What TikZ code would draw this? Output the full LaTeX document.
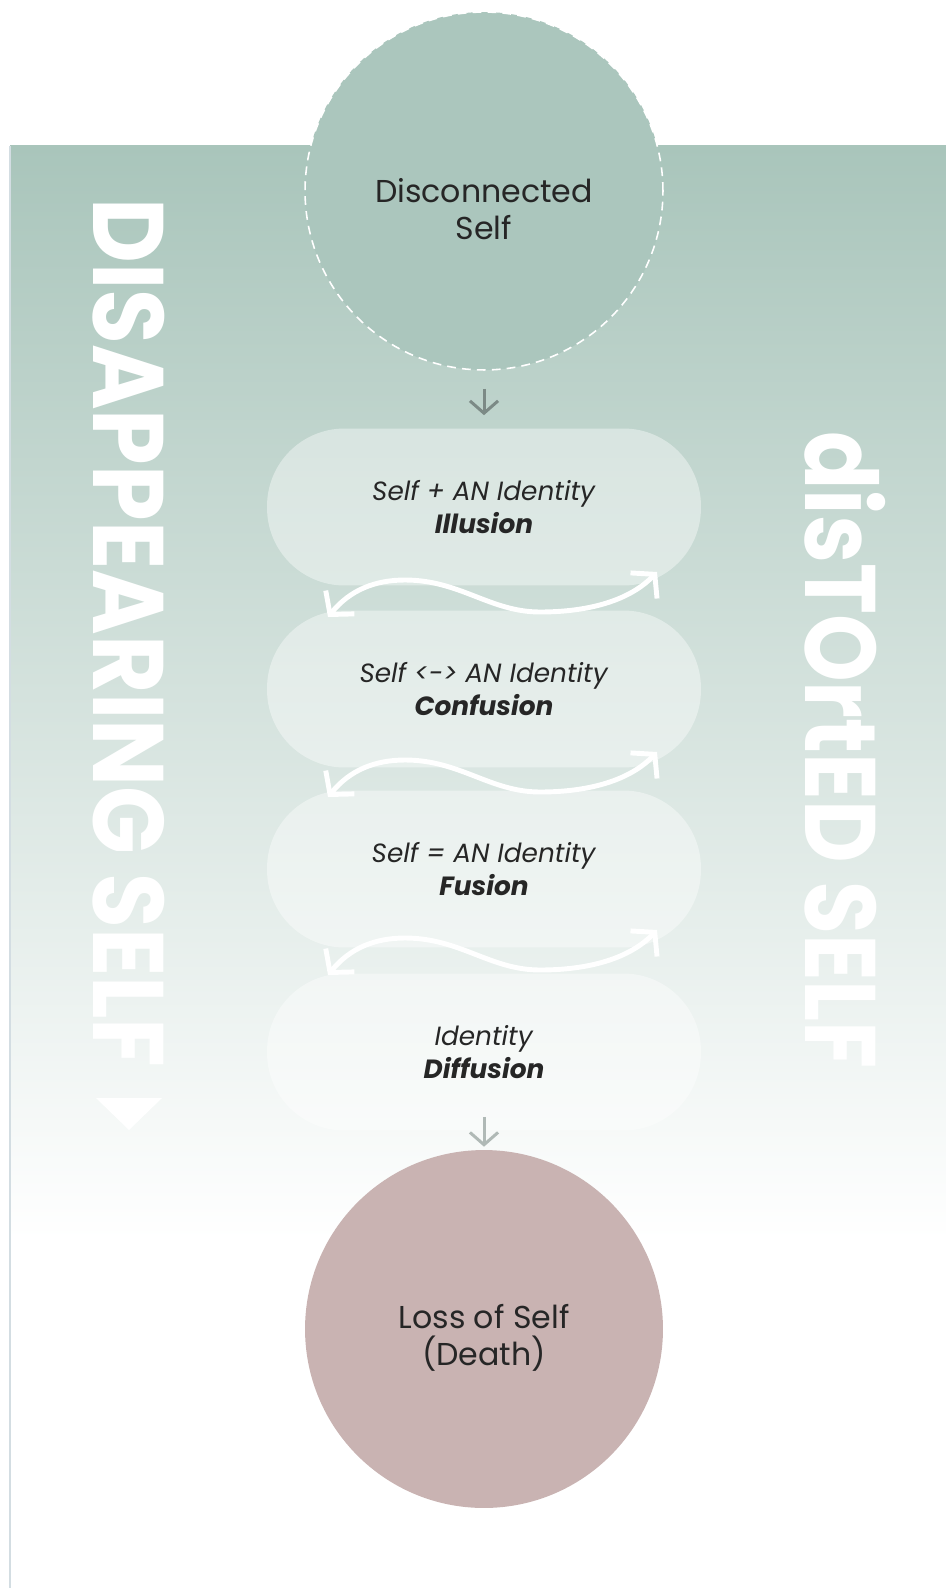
\documentclass[tikz,border=0pt]{standalone}
\usepackage{fontspec}
\setmainfont{Poppins}
\usepackage{tikz}
\usetikzlibrary{arrows.meta,positioning}

\definecolor{sage}{HTML}{A9C5BB}
\definecolor{sagedot}{HTML}{ABC6BD}
\definecolor{rose}{HTML}{C9B3B2}
\definecolor{ink}{HTML}{262626}
\definecolor{arrowgrey}{HTML}{7C8A86}
\definecolor{edgeline}{HTML}{D3DDE2}

\begin{document}
\begin{tikzpicture}[x=0.02cm, y=-0.02cm,
  bubble/.style={circle, minimum size=7.16cm, inner sep=0pt},
  bubbletext/.style={align=center, text=ink, inner sep=0pt, font=\fontsize{18}{21}\selectfont},
  pill/.style={rectangle, rounded corners=1.55cm, minimum width=8.68cm,
    minimum height=3.14cm, fill=white, fill opacity=0.4, text opacity=1,
    align=center, text=ink, font=\fontsize{15}{19}\selectfont},
  flow/.style={draw=arrowgrey, line width=1.7pt, -{Straight Barb[length=7pt, width=16pt]}},
  wave/.style={draw=white, line width=2.8pt, line cap=round,
    {Straight Barb[length=9pt, width=21pt]}-{Straight Barb[length=9pt, width=21pt]}},
  sidetext/.style={text=white, font=\fontsize{57}{57}\selectfont\bfseries, inner sep=0pt}]
  \useasboundingbox (0,0) rectangle (946,1588);

  % panel
  \shade[top color=sage, bottom color=white] (10,146) rectangle (946,1240);
  \draw[edgeline, line width=1pt] (10,146) -- (10,1588);

  % side titles
  \node[sidetext, rotate=-90] (disappearing) at (129,633) {\scalebox{0.89}[1]{DISAPPEARING SELF}};
  \fill[white] (96,1098) -- (162,1098) -- (129,1130) -- cycle;
  \node[sidetext, rotate=-90] (distorted) at (845,750) {\scalebox{0.86}[1]{disTOrtED SELF}};

  % stages
  \node[bubble, fill=sagedot, draw=white, line width=0.9pt, dash pattern=on 5pt off 3.5pt] (disc) at (484,191) {};
  \node[bubbletext] (disclabel) at (484,209) {Disconnected\\Self};
  \node[pill] (illusion) at (484,507) {\textit{Self + AN Identity}\\\textbf{\textit{Illusion}}};
  \node[pill] (confusion) at (484,689) {\textit{Self <-> AN Identity}\\\textbf{\textit{Confusion}}};
  \node[pill] (fusion) at (484,869) {\textit{Self = AN Identity}\\\textbf{\textit{Fusion}}};
  \node[pill] (diffusion) at (484,1052) {\textit{Identity}\\\textbf{\textit{Diffusion}}};
  \node[bubble, fill=rose] (death) at (484,1329) {};
  \node[bubbletext] (deathlabel) at (484,1338) {Loss of Self\\(Death)};

  \draw[flow, shorten <=0.36cm, shorten >=0.26cm] (disc) -- (illusion);
  \draw[flow, draw=arrowgrey!60, shorten <=-0.28cm, shorten >=0.06cm] (diffusion) -- (death);

  % back and forth
  \coordinate (w1l) at (328,617);
  \coordinate (w1r) at (657,572);
  \coordinate (w2l) at (328,797);
  \coordinate (w2r) at (657,752);
  \coordinate (w3l) at (328,975);
  \coordinate (w3r) at (657,930);
  \draw[wave] (w1l) .. controls (350,590) and (375,580) .. (405,580) .. controls (460,580) and (490,612) .. (540,612) .. controls (590,612) and (630,600) .. (w1r);
  \draw[wave] (w2l) .. controls (350,770) and (375,760) .. (405,760) .. controls (460,760) and (490,792) .. (540,792) .. controls (590,792) and (630,780) .. (w2r);
  \draw[wave] (w3l) .. controls (350,948) and (375,938) .. (405,938) .. controls (460,938) and (490,970) .. (540,970) .. controls (590,970) and (630,958) .. (w3r);
\end{tikzpicture}
\end{document}
